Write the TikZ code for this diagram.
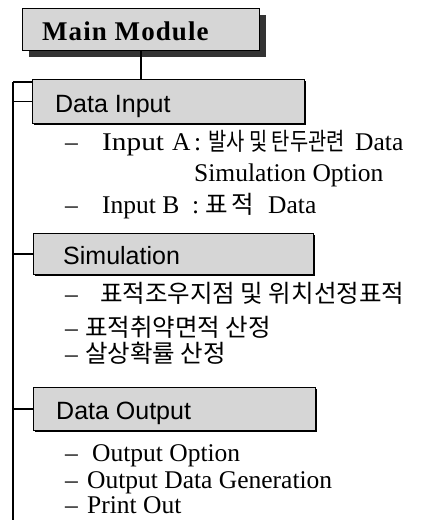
\documentclass[tikz,border=0pt]{standalone}
\usepackage{fontspec}
\usetikzlibrary{shadows}
\setmainfont{Liberation Serif}
\newfontfamily\hsans{Liberation Sans}
\newfontfamily\mainser{Liberation Serif}[LetterSpace=4]
\newfontfamily\kr{Noto Sans CJK KR}
\newcommand\itemdash[1]{\makebox[#1][l]{–}}
\newcommand\krtext[1]{{\kr\fontsize{24.5}{28}\selectfont #1}}
\begin{document}
\begin{tikzpicture}[x=1pt,y=-1pt,
  railline/.style={line width=1.6pt,black},
  mainbox/.style={draw=black,line width=1.2pt,fill=black!16,inner sep=0pt,anchor=north west,
    drop shadow={shadow xshift=6.5pt,shadow yshift=-6.5pt,fill=black!80,opacity=1}},
  secbox/.style={draw=black,line width=1.2pt,fill=black!16,inner sep=0pt,anchor=north west,
    drop shadow={shadow xshift=1.2pt,shadow yshift=-1.2pt,fill=black,opacity=1}},
  headlbl/.style={anchor=base west,inner sep=0pt,font=\hsans\fontsize{25}{30}\selectfont},
  mainlbl/.style={anchor=base west,inner sep=0pt,font=\mainser\bfseries\fontsize{27}{32}\selectfont},
  itemtxt/.style={anchor=base west,inner sep=0pt,font=\fontsize{25.5}{30}\selectfont},
]
\useasboundingbox (0,0) rectangle (444,520);

% boxes
\node[mainbox,minimum width=237pt,minimum height=42pt] (mbox) at (22,8) {};
\node[secbox,minimum width=272pt,minimum height=44pt] (dibox) at (32,79) {};
\node[secbox,minimum width=280pt,minimum height=41pt] (simbox) at (33,233) {};
\node[secbox,minimum width=282pt,minimum height=43pt] (dobox) at (33,387) {};

% connectors
\coordinate (railtop) at (13,82);
\coordinate (railbot) at (13,520);
\draw[railline] (mbox.south) -- (mbox.south |- dibox.north);
\draw[railline] (railtop) -- (railbot);
\draw[railline] (railtop) -- (dibox.west |- railtop);
\draw[railline] (railtop |- dibox.west) -- (dibox.west);
\draw[railline] (railtop |- simbox.west) -- (simbox.west);
\draw[railline] (railtop |- dobox.west) -- (dobox.west);

% labels
\node[mainlbl] (mtxt) at (42,40) {Main Module};
\node[headlbl] (ditxt) at (55,112) {Data Input};
\node[headlbl] (simtxt) at (63,264) {Simulation};
\node[headlbl] (dotxt) at (56,419) {Data Output};

% items
\node[itemtxt] (ia) at (65,150) {\itemdash{37pt}\makebox[70pt][l]{\scalebox{1.15}[1]{Input}}\makebox[22pt][l]{A}\makebox[14pt][l]{:}\makebox[147pt][l]{\scalebox{0.81}[1]{\krtext{발사 및 탄두관련}}}Data};
\node[itemtxt] (iaopt) at (194,181) {Simulation Option};
\node[itemtxt] (ib) at (65,213) {\itemdash{37pt}\makebox[90pt][l]{Input B}\makebox[13pt][l]{:}\makebox[63pt][l]{\krtext{표\hspace{4pt}적}}Data};
\node[itemtxt] (s1) at (65,302) {\itemdash{35pt}\krtext{표적조우지점 및 위치선정표적}};
\node[itemtxt] (s2) at (65,336) {\itemdash{20pt}\krtext{표적취약면적 산정}};
\node[itemtxt] (s3) at (65,362) {\itemdash{20pt}\krtext{살상확률 산정}};
\node[itemtxt] (o1) at (65,461) {\itemdash{27pt}Output Option};
\node[itemtxt] (o2) at (65,488) {\itemdash{22pt}Output Data Generation};
\node[itemtxt] (o3) at (65,513) {\itemdash{22pt}Print Out};
\end{tikzpicture}
\end{document}
